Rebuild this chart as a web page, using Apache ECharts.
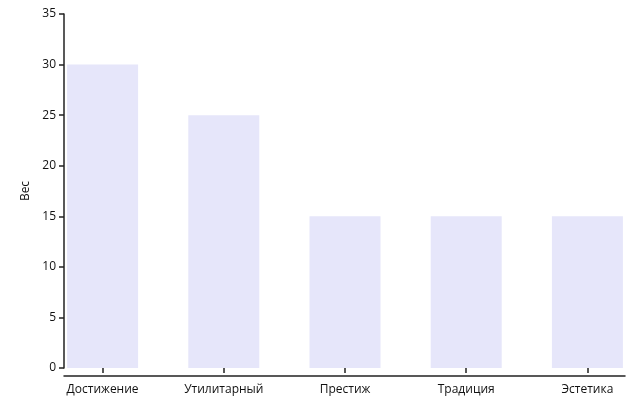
<!DOCTYPE html>
<html>
<head>
  <meta charset="utf-8">
  <script src="https://cdn.jsdelivr.net/npm/echarts@6/dist/echarts.min.js"></script>
</head>
<body style="margin:0">
<div id="main" style="width:643px;height:409px;"></div>
<script type="text/javascript">
  var categories = ['Достижение', 'Утилитарный', 'Престиж', 'Традиция', 'Эстетика'];
  var weights = [30, 25, 15, 15, 15];

  var myChart = echarts.init(document.getElementById('main'));
  var font = {color: '#111', fontSize: 12, fontFamily: 'Open Sans'};
  var line = {color: '#222', width: 1.5};
  var option = {
    animation: false,
    grid: [
      {left: 42, right: -5, top: 14, bottom: 41, outerBoundsMode: 'none', containLabel: false},
      {left: 64, right: 18, top: 14, bottom: 41, outerBoundsMode: 'none', containLabel: false}
    ],
    xAxis: [{
      type: 'category',
      data: categories,
      gridIndex: 0,
      offset: 8,
      axisLine: {show: false},
      axisTick: {show: true, alignWithLabel: true, length: 5, lineStyle: line},
      axisLabel: Object.assign({margin: 8}, font)
    }, {
      type: 'value',
      gridIndex: 1,
      offset: 8,
      axisLine: {show: true, onZero: false, lineStyle: line},
      axisTick: {show: false},
      axisLabel: {show: false},
      splitLine: {show: false}
    }],
    yAxis: [{
      type: 'value',
      gridIndex: 0,
      min: 0,
      max: 35,
      show: false
    }, {
      type: 'value',
      gridIndex: 1,
      min: 0,
      max: 35,
      interval: 5,
      name: 'Вес',
      nameLocation: 'middle',
      nameGap: 32,
      nameTextStyle: font,
      axisLine: {show: true, lineStyle: line},
      axisTick: {show: true, length: 5, lineStyle: line},
      axisLabel: font,
      splitLine: {show: false}
    }],
    series: [{
      type: 'bar',
      data: weights,
      barWidth: 71,
      itemStyle: {color: '#e6e6fa'}
    }]
  };
  myChart.setOption(option);
</script>
</body>
</html>
